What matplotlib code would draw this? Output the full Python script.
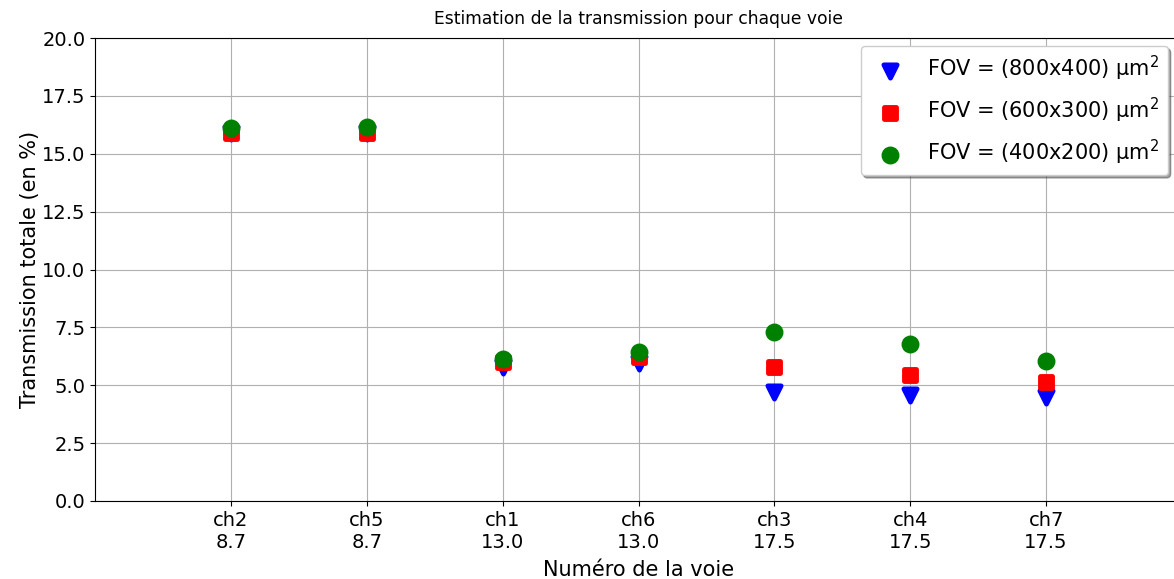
import numpy as np
import matplotlib
matplotlib.use('Agg')
import matplotlib.pyplot as plt

# voies triées par longueur d'onde
voies = ['ch2', 'ch5', 'ch1', 'ch6', 'ch3', 'ch4', 'ch7']
longueurs = [8.7, 8.7, 13.0, 13.0, 17.5, 17.5, 17.5]

# transmission totale estimée (en %) pour chaque champ de vue
t_800x400 = [15.9, 15.9, 5.8, 5.95, 4.7, 4.6, 4.5]
t_600x300 = [15.9, 15.9, 6.0, 6.2, 5.8, 5.45, 5.13]
t_400x200 = [16.1, 16.15, 6.15, 6.45, 7.3, 6.8, 6.03]

x = np.arange(len(voies))
ticklabels = ['%s\n%.1f' % (v, l) for v, l in zip(voies, longueurs)]

fig = plt.figure(figsize=(11.74, 5.79), dpi=100)
ax = fig.add_axes([95 / 1174, 78 / 579, 1087 / 1174, 463 / 579])

ax.scatter(x, t_800x400, marker='v', s=90, color='blue', edgecolors='blue', linewidths=3.5,
           label=r'FOV = (800x400) $\mathregular{\mu m^2}$', zorder=3)
ax.scatter(x, t_600x300, marker='s', s=85, color='red', edgecolors='red', linewidths=3.5,
           label=r'FOV = (600x300) $\mathregular{\mu m^2}$', zorder=3)
ax.scatter(x, t_400x200, marker='o', s=130, color='green', edgecolors='green', linewidths=1.5,
           label=r'FOV = (400x200) $\mathregular{\mu m^2}$', zorder=3)

ax.set_xlim(-1, 7)
ax.set_ylim(0, 20)
ax.set_yticks(np.arange(0, 20.1, 2.5))
ax.set_xticks(x)
ax.set_xticklabels(ticklabels)
ax.tick_params(labelsize=14)
ax.grid(True, color='#b0b0b0', linewidth=0.8)
ax.set_axisbelow(True)

ax.set_title('Estimation de la transmission pour chaque voie', fontsize=12.3, pad=10)
ax.set_xlabel('Numéro de la voie', fontsize=15, labelpad=6)
ax.set_ylabel('Transmission totale (en %)', fontsize=15, labelpad=1)

ax.legend(loc='upper right', fontsize=15, shadow=True, labelspacing=0.6,
          borderaxespad=0, bbox_to_anchor=(0.987, 0.983))

fig.savefig('out.png', dpi=100)
